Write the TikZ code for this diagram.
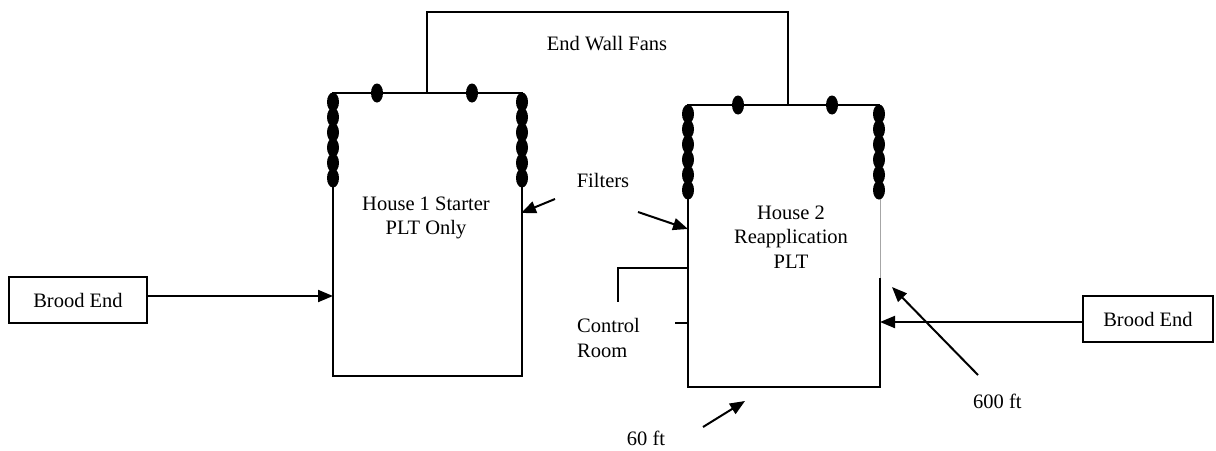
\documentclass[tikz,border=0pt]{standalone}
\usepackage{fontspec}
\setmainfont{Liberation Serif}
\usetikzlibrary{arrows.meta}
\tikzset{
  wall/.style={line width=2pt},
  thinwall/.style={line width=0.7pt, gray!70},
  arr/.style={line width=2pt, -{Triangle[length=15pt,width=12pt]}},
  lbl/.style={inner sep=0pt, font=\fontsize{20.5}{24.5}\selectfont, align=center},
  broodbox/.style={draw, line width=1.8pt, inner sep=0pt, font=\fontsize{20.5}{24.5}\selectfont},
  fan/.style={fill=black}
}
\begin{document}
\begin{tikzpicture}[x=1pt,y=-1pt]
\useasboundingbox (0,0) rectangle (1216,450);
% House 1 corners
\coordinate (h1tl) at (333,93);
\coordinate (h1tr) at (522,93);
\coordinate (h1bl) at (333,376);
\coordinate (h1br) at (522,376);
% House 2 corners
\coordinate (h2tl) at (688,105);
\coordinate (h2tr) at (880,105);
\coordinate (h2bl) at (688,387);
\coordinate (h2br) at (880,387);
\coordinate (h2rg) at (880,278);
% walls
\draw[wall] (h1tl) -- (h1bl) -- (h1br) -- (h1tr) -- cycle;
\draw[thinwall] (h2tr) -- (h2rg);
\draw[wall] (h2rg) -- (h2br) -- (h2bl) -- (h2tl) -- (h2tr);
% end wall fan connector
\coordinate (f1) at (427,93);
\coordinate (f2) at (788,105);
\draw[line width=1.5pt] (f1) -- ++(0,-81) -| (f2);
% fans / filters
\foreach \y in {102,117.2,132.4,147.6,162.8,178}{
  \fill[fan] (333,\y) ellipse (6 and 9.5);
  \fill[fan] (522,\y) ellipse (6 and 9.5);
}
\fill[fan] (377,93) ellipse (6 and 9.5);
\fill[fan] (472,93) ellipse (6 and 9.5);
\foreach \y in {114,129.2,144.4,159.6,174.8,190}{
  \fill[fan] (688,\y) ellipse (6 and 9.5);
  \fill[fan] (879,\y) ellipse (6 and 9.5);
}
\fill[fan] (738,105) ellipse (6 and 9.5);
\fill[fan] (832,105) ellipse (6 and 9.5);
% control room
\coordinate (c1) at (688,268);
\coordinate (c2) at (618,302);
\draw[line width=1.5pt] (c1) -| (c2);
\coordinate (c3) at (688,323);
\draw[line width=1.5pt] (c3) -- ++(-13,0);
% labels
\node[lbl] (ewf) at (607,44) {End Wall Fans};
\node[lbl] (house1) at (426,218) {House 1 Starter\\PLT Only};
\node[lbl] (house2) at (791,237) {House 2\\Reapplication\\PLT};
\node[lbl] (filters) at (603,180) {Filters};
\node[lbl, align=left, anchor=west] (ctrl) at (577,338) {Control\\Room};
\node[lbl, anchor=west] (ft600) at (973,401) {600 ft};
\node[lbl] (ft60) at (646,438) {60 ft};
% brood boxes
\node[broodbox, minimum width=138pt, minimum height=46pt] (brood1) at (78,300) {Brood End};
\node[broodbox, minimum width=130pt, minimum height=46pt] (brood2) at (1148,319) {Brood End};
% arrows
\coordinate (w1) at (333,296);
\coordinate (w2) at (880,322);
\draw[arr] (brood1.east |- w1) -- (w1);
\draw[arr] (brood2.west |- w2) -- (w2);
\coordinate (fa1) at (555,199);
\coordinate (fb1) at (521,213);
\coordinate (fa2) at (638,212);
\coordinate (fb2) at (688,229);
\draw[arr] (fa1) -- (fb1);
\draw[arr] (fa2) -- (fb2);
\coordinate (s600) at (978,375);
\coordinate (e600) at (892,287);
\draw[arr] (s600) -- (e600);
\coordinate (s60) at (703,427);
\coordinate (e60) at (745,401);
\draw[arr] (s60) -- (e60);
\end{tikzpicture}
\end{document}
